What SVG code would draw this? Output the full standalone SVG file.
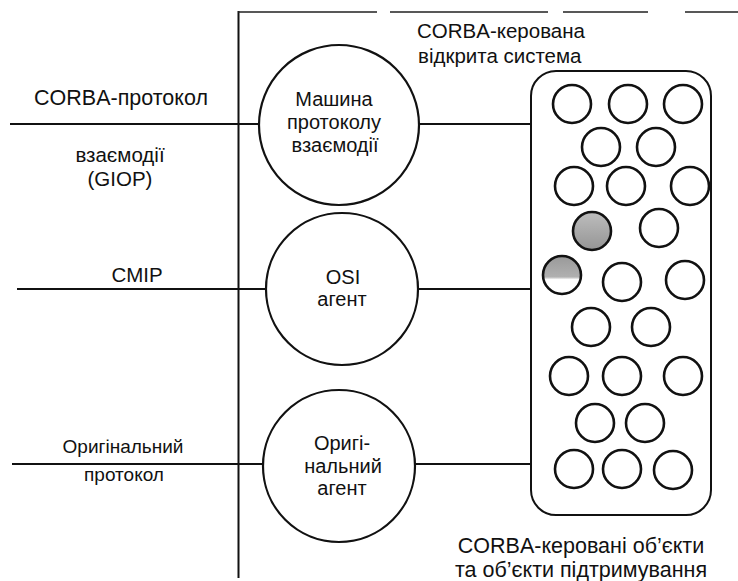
<svg xmlns="http://www.w3.org/2000/svg" width="738" height="581" viewBox="0 0 738 581">
  <style>
    .ln { stroke: #111; stroke-width: 2; fill: none; }
    .thin { stroke: #222; stroke-width: 1.4; fill: none; }
    .node { stroke: #111; stroke-width: 2.2; fill: #fff; }
    .obj { stroke: #111; stroke-width: 2.6; fill: #fff; }
    .obj.full { fill: url(#fullShade); }
    .obj.half { fill: url(#halfShade); }
    text { font-family: "Liberation Sans", Arial, sans-serif; font-size: 19px; fill: #111; }
    .node-text text { font-size: 20px; }
    .c { text-anchor: middle; }
    .big { font-size: 21.5px; }
    .mid { font-size: 20.5px; }
  </style>
  <defs>
    <linearGradient id="halfShade" x1="0" y1="0" x2="0" y2="1">
      <stop offset="0" stop-color="#999"/>
      <stop offset="0.55" stop-color="#b0b0b0"/>
      <stop offset="0.62" stop-color="#fff"/>
      <stop offset="1" stop-color="#fff"/>
    </linearGradient>
    <linearGradient id="fullShade" x1="0" y1="0" x2="0" y2="1">
      <stop offset="0" stop-color="#bdbdbd"/>
      <stop offset="1" stop-color="#959595"/>
    </linearGradient>
  </defs>

  <!-- boundary of the managed system -->
  <g id="boundary">
    <line class="ln" x1="238.5" y1="11" x2="238.5" y2="578"/>
    <path class="thin" d="M238 12 H377 M390 12 H548 M563 12 H648 M685 12 H738"/>
  </g>

  <!-- connectors -->
  <g id="connectors">
    <line class="ln" x1="10" y1="124" x2="259" y2="124"/>
    <line class="ln" x1="419" y1="124" x2="531" y2="124"/>
    <line class="ln" x1="17" y1="289" x2="266" y2="289"/>
    <line class="ln" x1="418" y1="289" x2="531" y2="289"/>
    <line class="ln" x1="12" y1="464" x2="263" y2="464"/>
    <line class="ln" x1="415" y1="464" x2="531" y2="464"/>
  </g>

  <!-- protocol labels on the left -->
  <g id="label-giop">
    <text class="c big" x="121" y="105">CORBA-протокол</text>
    <text class="c mid" x="120" y="162">взаємодії</text>
    <text class="c mid" x="120" y="186">(GIOP)</text>
  </g>
  <g id="label-cmip">
    <text class="c mid" x="137" y="282">CMIP</text>
  </g>
  <g id="label-native">
    <text class="c" x="123" y="453">Оригінальний</text>
    <text class="c" x="124" y="481">протокол</text>
  </g>

  <!-- agents -->
  <g id="node-giop-engine" class="node-text">
    <circle class="node" cx="339" cy="125" r="80"/>
    <text class="c" x="334" y="106">Машина</text>
    <text class="c" x="334" y="129">протоколу</text>
    <text class="c" x="335" y="152">взаємодії</text>
  </g>
  <g id="node-osi-agent" class="node-text">
    <circle class="node" cx="342" cy="289" r="76"/>
    <text class="c" x="343" y="284">OSI</text>
    <text class="c" x="342" y="306">агент</text>
  </g>
  <g id="node-native-agent" class="node-text">
    <circle class="node" cx="339" cy="466" r="76"/>
    <text class="c" x="342" y="450">Оригі-</text>
    <text class="c" x="343" y="473">нальний</text>
    <text class="c" x="342" y="495">агент</text>
  </g>

  <!-- managed system with its objects -->
  <g id="node-managed-system">
    <text class="mid" x="417" y="38">CORBA-керована</text>
    <text class="mid" x="418" y="63">відкрита система</text>
    <rect class="ln" x="531" y="71" width="180" height="444" rx="25" ry="25" stroke-width="2.2"/>
    <g id="objects">
      <circle class="obj" cx="572" cy="104" r="19"/>
      <circle class="obj" cx="628" cy="104" r="19"/>
      <circle class="obj" cx="683" cy="104" r="19"/>
      <circle class="obj" cx="601" cy="147" r="19"/>
      <circle class="obj" cx="656" cy="147" r="19"/>
      <circle class="obj" cx="574" cy="186" r="19"/>
      <circle class="obj" cx="626" cy="186" r="19"/>
      <circle class="obj" cx="690" cy="186" r="19"/>
      <circle class="obj full" cx="592" cy="231" r="19"/>
      <circle class="obj" cx="659" cy="228" r="19"/>
      <circle class="obj half" cx="562" cy="275" r="19"/>
      <circle class="obj" cx="622" cy="282" r="19"/>
      <circle class="obj" cx="685" cy="280" r="19"/>
      <circle class="obj" cx="591" cy="327" r="19"/>
      <circle class="obj" cx="651" cy="327" r="19"/>
      <circle class="obj" cx="569" cy="376" r="19"/>
      <circle class="obj" cx="622" cy="376" r="19"/>
      <circle class="obj" cx="683" cy="376" r="19"/>
      <circle class="obj" cx="595" cy="423" r="19"/>
      <circle class="obj" cx="645" cy="423" r="19"/>
      <circle class="obj" cx="574" cy="469" r="19"/>
      <circle class="obj" cx="622" cy="469" r="19"/>
      <circle class="obj" cx="673" cy="470" r="19"/>
    </g>
    <text class="c big" x="581" y="553">CORBA-керовані об’єкти</text>
    <text class="c big" x="581" y="577">та об’єкти підтримування</text>
  </g>
</svg>
